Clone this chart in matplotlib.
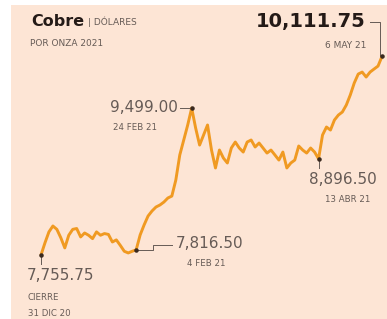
import numpy as np
import matplotlib.pyplot as plt
from matplotlib.patches import Rectangle
from matplotlib.lines import Line2D

# cobre, dolares por onza, cierre diario 31 dic 20 - 6 may 21
precio = [7755.75, 7900, 8030, 8100, 8060, 7960, 7840, 7990, 8060, 8070,
          7970, 8017, 7990, 7950, 8030, 7990, 8010, 8000, 7910, 7935,
          7870, 7800, 7780, 7800, 7816.50,
          7993, 8112, 8218, 8278, 8325, 8349, 8384, 8432, 8455, 8645,
          8942, 9120, 9298, 9499.00,
          9262, 9060, 9179, 9298, 9001, 8788, 9001, 8906, 8847, 9025,
          9096, 9025, 8977, 9096, 9120, 9037, 9084, 9025, 8965, 9001,
          8942, 8882, 8977, 8788, 8847, 8882, 9049, 9001, 8965, 9025,
          8977, 8896.50,
          9179, 9274, 9238, 9357, 9416, 9452, 9535, 9654, 9796, 9902,
          9926, 9867, 9926, 9962, 9997, 10111.75]
assert len(precio) == 87

# puntos marcados: indice, valor, fecha
marcas_idx = [0, 24, 38, 70, 86]
marcas_txt = ["7,755.75", "7,816.50", "9,499.00", "8,896.50", "10,111.75"]
marcas_fecha = ["31 DIC 20", "4 FEB 21", "24 FEB 21", "13 ABR 21", "6 MAY 21"]

W, H = 387, 319
fondo = "#fde5d5"
naranja = "#f09a22"
gris = "#665b56"
oscuro = "#241a17"

fig = plt.figure(figsize=(W / 100, H / 100), dpi=100)
fig.patch.set_facecolor("white")
fig.patches.append(Rectangle((11 / W, 0), 1, 1 - 5 / H, transform=fig.transFigure,
                             facecolor=fondo, edgecolor="none", zorder=-5))

def fx(x):
    return x / W

def fy(y):
    return 1 - y / H

ax = fig.add_axes([fx(41), fy(255), 341 / W, 198.6 / H])
ax.set_zorder(2)
ax.patch.set_alpha(0)
x = np.arange(len(precio))
ax.plot(x, precio, color=naranja, lw=2.1, solid_joinstyle="round",
        solid_capstyle="round", clip_on=False)
ax.scatter([x[i] for i in marcas_idx], [precio[i] for i in marcas_idx],
           s=5, color="#3a2a20", zorder=3, clip_on=False)
ax.set_xlim(0, len(precio) - 1)
ax.set_ylim(7755.75, 10111.75)
ax.axis("off")

# posicion en pixeles (desde arriba) de cada punto marcado
fig.canvas.draw()
pts = []
for i in marcas_idx:
    dx, dy = ax.transData.transform((x[i], precio[i]))
    pts.append((dx, H - dy))

def linea(xs, ys):
    fig.lines.append(Line2D([fx(v) for v in xs], [fy(v) for v in ys],
                            transform=fig.transFigure, color=gris, lw=0.7,
                            zorder=1))

def texto(xp, yp, s, **kw):
    fig.text(fx(xp), fy(yp), s, va="center", **kw)

# titulo
texto(31, 21, "Cobre", fontsize=11.5, fontweight="bold", color=oscuro)
texto(88, 22, "| DÓLARES", fontsize=6.5, color=gris)
texto(30, 43, "POR ONZA 2021", fontsize=6.5, color=gris)

# 31 dic 20
px_, py_ = pts[0]
linea([px_, px_], [py_, py_ + 9])
texto(27, 275, marcas_txt[0], fontsize=11, color=gris)
texto(28, 297, "CIERRE", fontsize=6.2, color=gris)
texto(28, 313, marcas_fecha[0], fontsize=6.2, color=gris)

# 4 feb 21
px_, py_ = pts[1]
linea([px_, px_ + 17, px_ + 17, px_ + 36], [py_, py_, py_ - 5, py_ - 5])
texto(176, 244, marcas_txt[1], fontsize=11, color=gris)
texto(206, 264, marcas_fecha[1], fontsize=6.2, color=gris, ha="center")

# 24 feb 21
px_, py_ = pts[2]
linea([px_ - 12, px_], [py_, py_])
texto(178, 107, marcas_txt[2], fontsize=11, color=gris, ha="right")
texto(135, 128, marcas_fecha[2], fontsize=6.2, color=gris, ha="center")

# 13 abr 21
px_, py_ = pts[3]
linea([px_, px_], [py_, py_ + 9])
texto(309, 180, marcas_txt[3], fontsize=11, color=gris)
texto(348, 200, marcas_fecha[3], fontsize=6.2, color=gris, ha="center")

# 6 may 21
px_, py_ = pts[4]
linea([px_ - 12, px_ - 2, px_ - 2], [22, 22, py_])
texto(366, 22, marcas_txt[4], fontsize=14, fontweight="bold", color=oscuro,
      ha="right")
texto(366, 45, marcas_fecha[4], fontsize=6.5, color=gris, ha="right")

plt.savefig("out.png", dpi=100, facecolor=fig.get_facecolor())
